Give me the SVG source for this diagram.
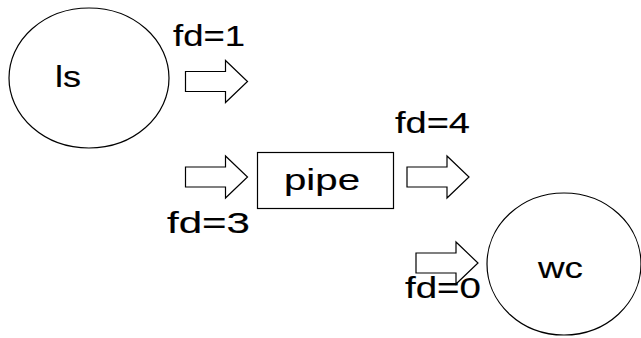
<svg xmlns="http://www.w3.org/2000/svg" width="641" height="338" viewBox="0 0 641 338">
<style>
.shape{fill:#fff;stroke:#000;stroke-width:1.2}
.t{font-family:"Liberation Sans",Arial,sans-serif;font-size:30px;fill:#000;stroke:#000;stroke-width:0.15}
.fd{font-size:29px}
.arr{fill:#fff;stroke:#000;stroke-width:1.2;stroke-linejoin:miter}
</style>
<defs>
<path id="fat" d="M0,-10 H40 V-21 L62,0 L40,21 V10 H0 Z"/>
</defs>
<rect width="641" height="338" fill="#fff"/>
<g id="ls">
<ellipse class="shape" cx="89" cy="78" rx="80" ry="70"/>
<text class="t" x="55" y="87" textLength="26" lengthAdjust="spacingAndGlyphs">ls</text>
</g>
<g id="pipe">
<rect class="shape" x="257.5" y="152.5" width="136" height="56"/>
<text class="t" x="284" y="190" textLength="76" lengthAdjust="spacingAndGlyphs">pipe</text>
</g>
<g id="wc">
<ellipse class="shape" cx="564" cy="264" rx="77" ry="71"/>
<text class="t" x="538" y="278" textLength="45" lengthAdjust="spacingAndGlyphs">wc</text>
</g>
<g id="connectors">
<use href="#fat" class="arr" transform="translate(185.5,81.5)"/>
<use href="#fat" class="arr" transform="translate(185.5,177)"/>
<use href="#fat" class="arr" transform="translate(407,177)"/>
<use href="#fat" class="arr" transform="translate(416,263)"/>
<text class="t fd" x="173" y="46" textLength="72" lengthAdjust="spacingAndGlyphs">fd=1</text>
<text class="t fd" x="167" y="233" textLength="83" lengthAdjust="spacingAndGlyphs">fd=3</text>
<text class="t fd" x="395" y="133" textLength="75" lengthAdjust="spacingAndGlyphs">fd=4</text>
<text class="t fd" x="405" y="298" textLength="76" lengthAdjust="spacingAndGlyphs">fd=0</text>
</g>
</svg>
